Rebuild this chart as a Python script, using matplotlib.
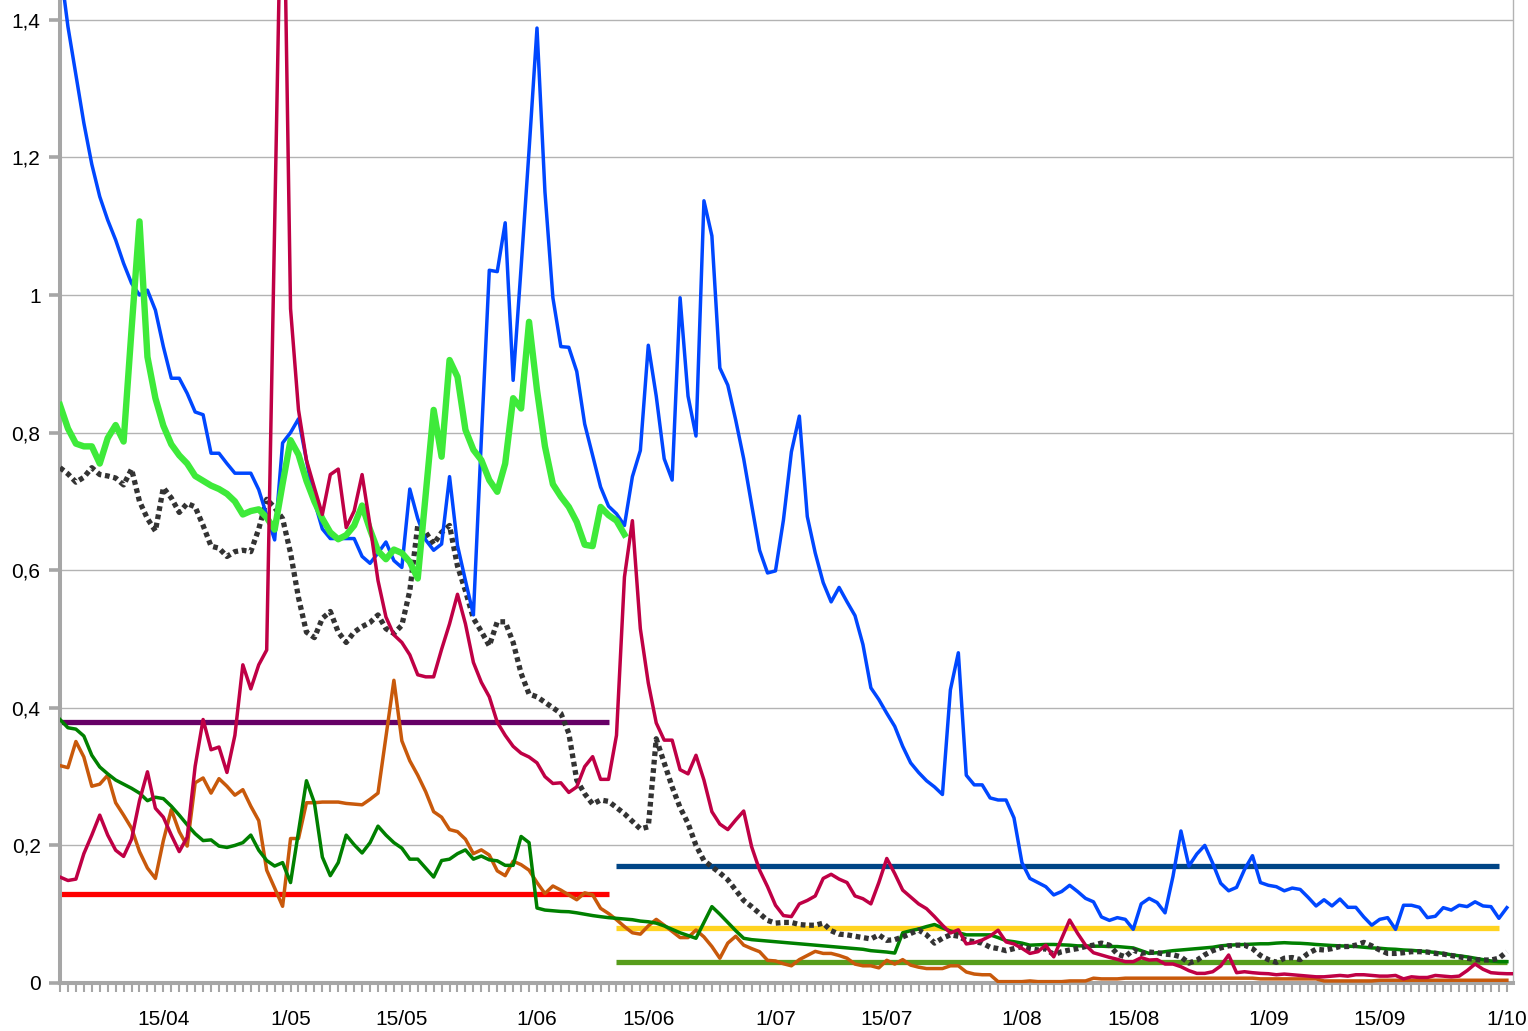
import numpy as np
import pandas as pd
import matplotlib
matplotlib.use('Agg')
import matplotlib.pyplot as plt
import matplotlib.dates as mdates
from matplotlib.ticker import FuncFormatter, MultipleLocator

plt.rcParams['font.family'] = ['Liberation Sans', 'DejaVu Sans']

start = pd.Timestamp('2021-04-02')

# daily values, one row = 10 days
blue = [1.48, 1.39, 1.32, 1.25, 1.19, 1.143, 1.109, 1.08, 1.046, 1.017,
        1.0, 1.007, 0.978, 0.925, 0.879, 0.879, 0.857, 0.83, 0.826, 0.77,
        0.77, 0.755, 0.741, 0.741, 0.741, 0.717, 0.68, 0.644, 0.785, 0.80,
        0.82, 0.76, 0.70, 0.66, 0.646, 0.646, 0.646, 0.646, 0.62, 0.61,
        0.625, 0.641, 0.614, 0.604, 0.718, 0.675, 0.644, 0.629, 0.638, 0.736,
        0.636, 0.585, 0.535, 0.79, 1.036, 1.034, 1.105, 0.876, 1.04, 1.21,
        1.388, 1.15, 0.996, 0.925, 0.924, 0.889, 0.8125, 0.767, 0.721, 0.693,
        0.682, 0.665, 0.736, 0.774, 0.927, 0.853, 0.762, 0.731, 0.996, 0.853,
        0.795, 1.137, 1.086, 0.894, 0.869, 0.818, 0.762, 0.695, 0.629, 0.596,
        0.599, 0.673, 0.772, 0.824, 0.678, 0.625, 0.582, 0.554, 0.575, 0.554,
        0.534, 0.492, 0.429, 0.412, 0.392, 0.373, 0.344, 0.32, 0.306, 0.294,
        0.285, 0.274, 0.426, 0.48, 0.302, 0.288, 0.288, 0.269, 0.266, 0.266,
        0.24, 0.175, 0.152, 0.146, 0.14, 0.128, 0.133, 0.142, 0.133, 0.123,
        0.118, 0.096, 0.091, 0.095, 0.0925, 0.078, 0.115, 0.123, 0.117, 0.102,
        0.155, 0.221, 0.17, 0.1875, 0.20, 0.174, 0.145, 0.134, 0.139, 0.165,
        0.185, 0.146, 0.142, 0.14, 0.134, 0.138, 0.136, 0.1245, 0.112, 0.121,
        0.112, 0.122, 0.11, 0.11, 0.096, 0.084, 0.0925, 0.095, 0.078, 0.113,
        0.113, 0.11, 0.095, 0.097, 0.1095, 0.106, 0.113, 0.111, 0.118, 0.112,
        0.111, 0.094, 0.1095]

crimson = [0.154, 0.149, 0.151, 0.188, 0.215, 0.244, 0.215, 0.193, 0.184, 0.209,
           0.265, 0.307, 0.254, 0.241, 0.215, 0.191, 0.212, 0.315, 0.383, 0.339,
           0.343, 0.306, 0.36, 0.4625, 0.4275, 0.4625, 0.484, 1.1, 1.72, 0.98,
           0.833, 0.76, 0.72, 0.681, 0.739, 0.747, 0.662, 0.686, 0.739, 0.665,
           0.585, 0.532, 0.506, 0.495, 0.477, 0.448, 0.445, 0.445, 0.485, 0.522,
           0.565, 0.522, 0.466, 0.437, 0.416, 0.379, 0.36, 0.344, 0.334, 0.3285,
           0.32, 0.30, 0.29, 0.291, 0.277, 0.285, 0.3145, 0.329, 0.296, 0.296,
           0.36, 0.59, 0.672, 0.515, 0.436, 0.378, 0.353, 0.353, 0.31, 0.304,
           0.331, 0.295, 0.249, 0.231, 0.223, 0.237, 0.25, 0.198, 0.164, 0.14,
           0.113, 0.098, 0.0965, 0.115, 0.12, 0.1265, 0.152, 0.158, 0.151, 0.146,
           0.1265, 0.1225, 0.115, 0.146, 0.181, 0.159, 0.135, 0.125, 0.115, 0.108,
           0.0965, 0.084, 0.0727, 0.0773, 0.0568, 0.0586, 0.0625, 0.0683, 0.0767, 0.0597,
           0.0568, 0.0504, 0.043, 0.0455, 0.055, 0.038, 0.065, 0.0916, 0.0722, 0.055,
           0.044, 0.0407, 0.0373, 0.0344, 0.031, 0.031, 0.0368, 0.0334, 0.034, 0.0276,
           0.0276, 0.0237, 0.018, 0.014, 0.014, 0.0164, 0.0247, 0.0407, 0.015, 0.0164,
           0.015, 0.014, 0.0135, 0.012, 0.013, 0.012, 0.011, 0.01, 0.009, 0.009,
           0.01, 0.011, 0.01, 0.012, 0.012, 0.011, 0.01, 0.01, 0.011, 0.006,
           0.009, 0.008, 0.008, 0.011, 0.01, 0.009, 0.01, 0.018, 0.0276, 0.02,
           0.015, 0.014, 0.0135, 0.0135]

light_green = [0.84, 0.806, 0.784, 0.78, 0.78, 0.755, 0.792, 0.811, 0.787, 0.95,
               1.107, 0.91, 0.85, 0.81, 0.783, 0.767, 0.755, 0.737, 0.73, 0.723,
               0.718, 0.711, 0.70, 0.681, 0.686, 0.6885, 0.6765, 0.659, 0.7256, 0.789,
               0.768, 0.73, 0.70, 0.675, 0.655, 0.645, 0.651, 0.665, 0.694, 0.659,
               0.628, 0.616, 0.63, 0.625, 0.612, 0.588, 0.71, 0.833, 0.765, 0.9055,
               0.881, 0.804, 0.775, 0.76, 0.731, 0.714, 0.755, 0.85, 0.835, 0.961,
               0.862, 0.78, 0.725, 0.707, 0.692, 0.67, 0.637, 0.635, 0.692, 0.68,
               0.672, 0.652]

dotted = [0.749, 0.74, 0.728, 0.735, 0.749, 0.739, 0.737, 0.734, 0.724, 0.747,
          0.70, 0.675, 0.657, 0.72, 0.705, 0.684, 0.697, 0.692, 0.665, 0.635,
          0.632, 0.62, 0.627, 0.629, 0.627, 0.66, 0.703, 0.691, 0.675, 0.625,
          0.56, 0.51, 0.502, 0.53, 0.54, 0.51, 0.495, 0.51, 0.518, 0.524,
          0.535, 0.515, 0.508, 0.52, 0.57, 0.665, 0.655, 0.638, 0.655, 0.665,
          0.606, 0.57, 0.53, 0.511, 0.49, 0.525, 0.525, 0.495, 0.45, 0.42,
          0.416, 0.408, 0.40, 0.392, 0.363, 0.295, 0.275, 0.26, 0.266, 0.264,
          0.255, 0.246, 0.235, 0.224, 0.227, 0.355, 0.32, 0.285, 0.255, 0.232,
          0.2, 0.178, 0.169, 0.16, 0.15, 0.135, 0.12, 0.111, 0.101, 0.091,
          0.087, 0.088, 0.088, 0.085, 0.084, 0.084, 0.087, 0.076, 0.071, 0.07,
          0.068, 0.066, 0.064, 0.07, 0.062, 0.063, 0.067, 0.072, 0.077, 0.07,
          0.058, 0.065, 0.07, 0.068, 0.062, 0.06, 0.058, 0.052, 0.05, 0.047,
          0.05, 0.053, 0.05, 0.048, 0.05, 0.041, 0.0455, 0.048, 0.05, 0.053,
          0.055, 0.058, 0.055, 0.042, 0.038, 0.048, 0.043, 0.045, 0.044, 0.042,
          0.041, 0.038, 0.029, 0.033, 0.041, 0.047, 0.051, 0.054, 0.055, 0.055,
          0.05, 0.04, 0.034, 0.03, 0.036, 0.037, 0.034, 0.043, 0.049, 0.048,
          0.05, 0.053, 0.053, 0.055, 0.059, 0.054, 0.048, 0.043, 0.043, 0.044,
          0.0455, 0.0455, 0.045, 0.043, 0.042, 0.04, 0.038, 0.036, 0.034, 0.0334,
          0.0334, 0.036, 0.0455]

dark_green = [0.383, 0.371, 0.369, 0.359, 0.331, 0.314, 0.304, 0.295, 0.289, 0.283,
              0.276, 0.265, 0.27, 0.268, 0.257, 0.244, 0.23, 0.217, 0.207, 0.208,
              0.199, 0.197, 0.20, 0.204, 0.215, 0.193, 0.178, 0.17, 0.175, 0.146,
              0.22, 0.294, 0.262, 0.183, 0.156, 0.175, 0.215, 0.201, 0.189, 0.204,
              0.228, 0.215, 0.204, 0.196, 0.18, 0.18, 0.167, 0.154, 0.178, 0.18,
              0.188, 0.1935, 0.18, 0.1845, 0.179, 0.1776, 0.171, 0.171, 0.213, 0.204,
              0.109, 0.106, 0.105, 0.104, 0.1036, 0.102, 0.10, 0.098, 0.0964, 0.095,
              0.094, 0.093, 0.092, 0.09, 0.089, 0.087, 0.083, 0.078, 0.073, 0.069,
              0.065, 0.088, 0.111, 0.10, 0.088, 0.076, 0.065, 0.063, 0.062, 0.061,
              0.06, 0.059, 0.058, 0.057, 0.056, 0.055, 0.054, 0.053, 0.052, 0.051,
              0.05, 0.049, 0.047, 0.046, 0.045, 0.0435, 0.073, 0.076, 0.0785, 0.082,
              0.085, 0.08, 0.0756, 0.073, 0.07, 0.07, 0.07, 0.07, 0.066, 0.0615,
              0.06, 0.058, 0.055, 0.0555, 0.056, 0.056, 0.0555, 0.055, 0.054, 0.054,
              0.0535, 0.0535, 0.053, 0.053, 0.052, 0.051, 0.047, 0.043, 0.044, 0.0455,
              0.047, 0.048, 0.049, 0.05, 0.051, 0.052, 0.054, 0.055, 0.0555, 0.056,
              0.0565, 0.057, 0.057, 0.058, 0.0586, 0.058, 0.0577, 0.057, 0.056, 0.0552,
              0.0545, 0.054, 0.0535, 0.053, 0.052, 0.051, 0.0505, 0.0495, 0.049, 0.048,
              0.0475, 0.0465, 0.0455, 0.0445, 0.043, 0.041, 0.0395, 0.038, 0.036, 0.034,
              0.032, 0.031, 0.031]

orange = [0.316, 0.313, 0.351, 0.3285, 0.286, 0.289, 0.302, 0.262, 0.244, 0.225,
          0.191, 0.167, 0.152, 0.207, 0.252, 0.22, 0.199, 0.291, 0.298, 0.276,
          0.297, 0.286, 0.273, 0.281, 0.257, 0.236, 0.164, 0.138, 0.1115, 0.21,
          0.21, 0.262, 0.262, 0.263, 0.263, 0.263, 0.261, 0.26, 0.259, 0.267,
          0.276, 0.358, 0.44, 0.352, 0.323, 0.302, 0.278, 0.249, 0.241, 0.223,
          0.22, 0.209, 0.188, 0.1935, 0.186, 0.163, 0.156, 0.177, 0.172, 0.164,
          0.146, 0.13, 0.141, 0.135, 0.128, 0.121, 0.131, 0.128, 0.1085, 0.101,
          0.092, 0.082, 0.073, 0.071, 0.083, 0.0925, 0.084, 0.075, 0.066, 0.066,
          0.077, 0.067, 0.053, 0.036, 0.058, 0.068, 0.055, 0.05, 0.0455, 0.033,
          0.032, 0.028, 0.025, 0.034, 0.04, 0.046, 0.043, 0.043, 0.04, 0.036,
          0.0275, 0.025, 0.025, 0.022, 0.033, 0.0275, 0.034, 0.026, 0.023, 0.021,
          0.021, 0.021, 0.025, 0.025, 0.016, 0.013, 0.012, 0.012, 0.002, 0.002,
          0.002, 0.002, 0.003, 0.002, 0.002, 0.002, 0.002, 0.003, 0.003, 0.003,
          0.007, 0.006, 0.006, 0.006, 0.007, 0.007, 0.007, 0.007, 0.007, 0.007,
          0.007, 0.007, 0.007, 0.007, 0.007, 0.007, 0.007, 0.007, 0.007, 0.007,
          0.007, 0.006, 0.006, 0.006, 0.006, 0.006, 0.006, 0.006, 0.006, 0.003,
          0.003, 0.003, 0.003, 0.003, 0.003, 0.003, 0.004, 0.004, 0.004, 0.004,
          0.004, 0.004, 0.004, 0.004, 0.004, 0.004, 0.004, 0.004, 0.004, 0.004,
          0.004, 0.004, 0.004]

# constant levels: (value, first day, last day, colour)
levels = [(0.38, 0, 69, '#660066'),
          (0.13, 0, 69, '#ff0000'),
          (0.17, 70, 181, '#004586'),
          (0.08, 70, 181, '#ffd320'),
          (0.03, 70, 182, '#579d1c')]


def dates(n, offset=0):
    return start + pd.to_timedelta(np.arange(offset, offset + n), unit='D')


fig = plt.figure(figsize=(15.28, 10.31), dpi=100)
ax = fig.add_axes([60 / 1528, 48 / 1031, 1453 / 1528, 983 / 1031])

for val, d0, d1, col in levels:
    ax.plot([start + pd.Timedelta(days=d0), start + pd.Timedelta(days=d1)], [val, val],
            color=col, lw=3.8, solid_capstyle='butt', zorder=2)

ax.plot(dates(len(orange)), orange, color='#c8590b', lw=2.5, zorder=3)
ax.plot(dates(len(dark_green)), dark_green, color='#008000', lw=2.5, zorder=3)
ax.plot(dates(len(dotted)), dotted, color='#333333', lw=3.8, dashes=(0.9, 0.7),
        dash_capstyle='butt', zorder=4)
ax.plot(dates(len(blue)), blue, color='#0047ff', lw=2.5, zorder=5)
ax.plot(dates(len(light_green)), light_green, color='#3eea3a', lw=4.6, zorder=6)
ax.plot(dates(len(crimson)), crimson, color='#bf0045', lw=2.5, zorder=7)

x0 = mdates.date2num(start)
ax.set_xlim(x0, x0 + 182.77)
ax.set_ylim(0, 1.4288)

ax.yaxis.set_major_locator(MultipleLocator(0.2))
ax.yaxis.set_major_formatter(FuncFormatter(lambda v, p: f"{v:g}".replace('.', ',')))
ax.grid(axis='y', color='#b3b3b3', lw=1)
ax.set_axisbelow(True)

ax.xaxis.set_major_locator(mdates.DayLocator(bymonthday=[1, 15]))
ax.xaxis.set_minor_locator(mdates.DayLocator())
ax.xaxis.set_major_formatter(FuncFormatter(
    lambda v, p: f"{mdates.num2date(v).day}/{mdates.num2date(v).month:02d}"))

ax.tick_params(axis='x', which='both', length=6.5, width=1.5, color='#a6a6a6',
               direction='out', labelsize=15, pad=13)
ax.tick_params(axis='y', length=8, width=2.6, color='#a6a6a6', labelsize=15, pad=6)

for s in ['left', 'bottom']:
    ax.spines[s].set_color('#a6a6a6')
    ax.spines[s].set_linewidth(2.9)
ax.spines['right'].set_color('#b3b3b3')
ax.spines['right'].set_linewidth(1)
ax.spines['top'].set_visible(False)

fig.savefig('out.png', dpi=100)
